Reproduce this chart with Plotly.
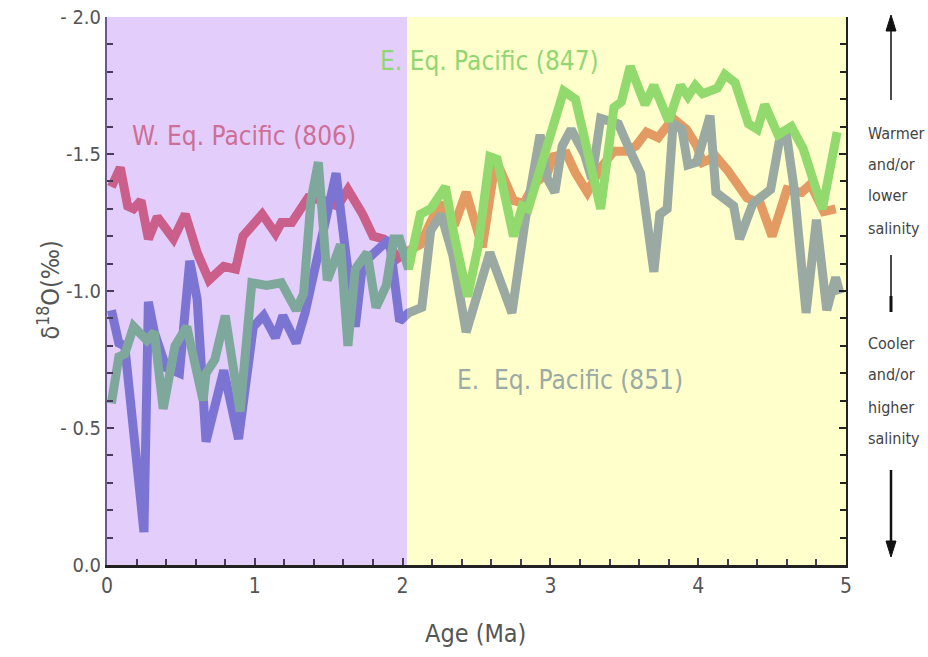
import plotly.graph_objects as go

# ---------------- data ----------------
age_806 = [0.03, 0.09, 0.14, 0.18, 0.23, 0.28, 0.34, 0.45, 0.53, 0.61, 0.69, 0.79, 0.87, 0.92,
           1.05, 1.14, 1.18, 1.25, 1.36, 1.47, 1.56, 1.63, 1.73, 1.80, 1.87, 1.97,
           2.05, 2.12, 2.25, 2.35, 2.43, 2.54, 2.63, 2.75, 2.82, 2.89, 2.98, 3.02, 3.11, 3.17,
           3.25, 3.34, 3.43, 3.52, 3.58, 3.65, 3.73, 3.83, 3.92, 3.99, 4.03, 4.12, 4.20, 4.26,
           4.33, 4.42, 4.50, 4.60, 4.70, 4.76, 4.85, 4.93]
d18o_806 = [-1.38, -1.45, -1.31, -1.30, -1.33, -1.19, -1.27, -1.19, -1.28, -1.14, -1.04, -1.09, -1.08, -1.20,
            -1.28, -1.21, -1.25, -1.25, -1.34, -1.33, -1.31, -1.37, -1.28, -1.20, -1.19, -1.12,
            -1.15, -1.17, -1.32, -1.24, -1.36, -1.16, -1.48, -1.33, -1.32, -1.39, -1.43, -1.49, -1.50, -1.43,
            -1.36, -1.45, -1.51, -1.51, -1.53, -1.58, -1.56, -1.63, -1.59, -1.53, -1.47, -1.49, -1.44, -1.39,
            -1.34, -1.32, -1.20, -1.37, -1.36, -1.39, -1.29, -1.30]

age_847 = [0.03, 0.08, 0.12, 0.18, 0.27, 0.32, 0.38, 0.46, 0.54, 0.65, 0.67, 0.73, 0.80, 0.90,
           0.98, 1.08, 1.18, 1.28, 1.33, 1.38, 1.43, 1.49, 1.54, 1.58, 1.63, 1.68, 1.76, 1.82,
           1.89, 1.94, 1.98, 2.04,
           2.12, 2.19, 2.29, 2.35, 2.44, 2.51, 2.59, 2.64, 2.75, 2.81, 2.85, 3.00, 3.09, 3.17,
           3.25, 3.34, 3.43, 3.48, 3.54, 3.64, 3.70, 3.80, 3.88, 3.93, 3.98, 4.03, 4.13, 4.18,
           4.25, 4.34, 4.40, 4.45, 4.54, 4.63, 4.71, 4.84, 4.89, 4.94]
d18o_847 = [-0.59, -0.76, -0.77, -0.87, -0.82, -0.85, -0.57, -0.80, -0.87, -0.60, -0.70, -0.75, -0.91, -0.56,
            -1.03, -1.02, -1.03, -0.93, -0.99, -1.33, -1.47, -1.04, -1.11, -1.17, -0.80, -1.08, -1.14, -0.94,
            -1.02, -1.19, -1.19, -1.08,
            -1.28, -1.30, -1.38, -1.20, -0.98, -1.16, -1.49, -1.48, -1.20, -1.31, -1.30, -1.56, -1.73, -1.70,
            -1.51, -1.30, -1.67, -1.69, -1.82, -1.68, -1.75, -1.62, -1.75, -1.71, -1.75, -1.72, -1.74, -1.79,
            -1.76, -1.61, -1.59, -1.68, -1.57, -1.60, -1.52, -1.30, -1.44, -1.58]

age_851 = [0.03, 0.08, 0.12, 0.25, 0.28, 0.32, 0.40, 0.49, 0.56, 0.61, 0.67, 0.79, 0.89, 0.99,
           1.06, 1.14, 1.19, 1.28, 1.34, 1.43, 1.50, 1.55, 1.61, 1.68, 1.73, 1.82, 1.91, 1.98, 2.04,
           2.13, 2.19, 2.26, 2.34, 2.43, 2.52, 2.59, 2.74, 2.83, 2.93, 2.98, 3.03, 3.08, 3.14,
           3.23, 3.28, 3.34, 3.40, 3.46, 3.54, 3.61, 3.70, 3.74, 3.79, 3.83, 3.89, 3.93, 3.99,
           4.08, 4.12, 4.18, 4.24, 4.28, 4.37, 4.49, 4.55, 4.60, 4.65, 4.73, 4.80, 4.87, 4.93, 4.96]
d18o_851 = [-0.93, -0.81, -0.80, -0.12, -0.96, -0.85, -0.72, -0.70, -1.11, -0.97, -0.45, -0.71, -0.46, -0.87,
            -0.91, -0.83, -0.91, -0.81, -0.92, -1.15, -1.34, -1.43, -1.16, -0.87, -1.10, -1.15, -1.19, -0.89, -0.92,
            -0.94, -1.22, -1.28, -1.13, -0.85, -1.00, -1.14, -0.92, -1.26, -1.57, -1.41, -1.36, -1.53, -1.59,
            -1.50, -1.41, -1.63, -1.62, -1.61, -1.51, -1.43, -1.07, -1.28, -1.30, -1.61, -1.59, -1.46, -1.47,
            -1.64, -1.36, -1.33, -1.31, -1.19, -1.32, -1.37, -1.55, -1.56, -1.37, -0.92, -1.26, -0.93, -1.05, -0.99]

boundary_age = 2.03  # purple / yellow split
x_max = 5.0

ytick_vals = [-2.0, -1.5, -1.0, -0.5, 0.0]
ytick_text = ["- 2.0", "-1.5", "-1.0", "- 0.5", "0.0"]
xtick_vals = [0, 1, 2, 3, 4, 5]

# ---------------- styling ----------------
PURPLE_BG = "#e3cdfb"
YELLOW_BG = "#ffffcc"
col_left = {"806": "#c95f8a", "847": "#7fa89c", "851": "#7b74d3"}
col_right = {"806": "#e39a63", "847": "#92da6e", "851": "#9aaaa2"}
LW = 9
FONT = "DejaVu Sans Condensed, Liberation Sans Narrow, Liberation Sans, sans-serif"
TXT = "#555555"
AX = "#4a3a5a"

W, H = 928, 657
ML, MR, MT, MB = 107, 82, 17, 92  # plot area: x 107..846, y 17..565

series = [("806", age_806, d18o_806), ("851", age_851, d18o_851), ("847", age_847, d18o_847)]

fig = go.Figure()
for key, ages, vals in series:
    fig.add_trace(go.Scatter(x=ages, y=vals, mode="lines", xaxis="x2", yaxis="y2",
                             line=dict(color=col_right[key], width=LW), showlegend=False,
                             hoverinfo="skip"))
for key, ages, vals in series:
    fig.add_trace(go.Scatter(x=ages, y=vals, mode="lines", xaxis="x", yaxis="y",
                             line=dict(color=col_left[key], width=LW), showlegend=False,
                             hoverinfo="skip"))

split = boundary_age / x_max
minor_y = [-2 + 0.1 * i for i in range(21)]
minor_x = [0.2 * i for i in range(26)]

common_x = dict(tickmode="array", tickvals=xtick_vals, ticks="inside", ticklen=7,
                tickcolor=AX, tickwidth=1.5,
                minor=dict(tickmode="array", tickvals=minor_x, ticks="inside", ticklen=6,
                           tickcolor=AX, tickwidth=1.5),
                showline=True, linecolor="#222222", linewidth=3, showgrid=False, zeroline=False,
                tickfont=dict(size=21, color=TXT), automargin=False, ticklabeloverflow="allow")

fig.update_layout(
    width=W, height=H,
    margin=dict(l=ML, r=MR, t=MT, b=MB, autoexpand=False),
    paper_bgcolor="white",
    plot_bgcolor=YELLOW_BG,
    font=dict(family=FONT, color=TXT),
    xaxis=dict(domain=[0, split], range=[0, boundary_age], anchor="y", **common_x),
    xaxis2=dict(domain=[split, 1], range=[boundary_age, x_max], anchor="y2", **common_x),
    yaxis=dict(range=[0, -2], anchor="x", tickmode="array", tickvals=ytick_vals,
               ticktext=ytick_text, ticks="inside", ticklen=7, tickcolor=AX, tickwidth=1.5,
               minor=dict(tickmode="array", tickvals=minor_y, ticks="inside", ticklen=6,
                          tickcolor=AX, tickwidth=1.5),
               showline=True, linecolor="#6a5a8a", linewidth=2, showgrid=False, zeroline=False,
               tickfont=dict(size=20, color=TXT), automargin=False, ticklabeloverflow="allow"),
    yaxis2=dict(range=[0, -2], anchor="x2", side="right", tickmode="array", tickvals=ytick_vals,
                showticklabels=False, ticks="inside", ticklen=7, tickcolor="#222222", tickwidth=1.5,
                minor=dict(tickmode="array", tickvals=minor_y, ticks="inside", ticklen=6,
                           tickcolor="#222222", tickwidth=1.5),
                showline=True, linecolor="#222222", linewidth=2, showgrid=False, zeroline=False,
                automargin=False),
)

fig.add_shape(type="rect", xref="x domain", yref="y domain", x0=0, x1=1, y0=0, y1=1,
              fillcolor=PURPLE_BG, line_width=0, layer="below")


def px_to_paper_x(px):
    return (px - ML) / (W - ML - MR)


def px_to_paper_y(py):
    return (H - MB - py) / (H - MT - MB)


ann = []
ann.append(dict(x=0.93, y=-1.565, xref="x", yref="y", text="W. Eq. Pacific (806)",
                showarrow=False, font=dict(size=26, color="#cd6f96")))
ann.append(dict(x=2.59, y=-1.84, xref="x2", yref="y2", text="E. Eq. Pacific (847)",
                showarrow=False, font=dict(size=26, color="#92d674")))
ann.append(dict(x=3.13, y=-0.675, xref="x2", yref="y2", text="E.  Eq. Pacific (851)",
                showarrow=False, font=dict(size=26, color="#9aaaa4")))
ann.append(dict(x=px_to_paper_x(475), y=px_to_paper_y(633), xref="paper", yref="paper",
                text="Age (Ma)", showarrow=False, font=dict(size=25, color=TXT), yanchor="middle"))
ann.append(dict(x=px_to_paper_x(30), y=px_to_paper_y(290), xref="paper", yref="paper",
                text="δ<sup>18</sup>O(‰)", textangle=-90, showarrow=False,
                font=dict(size=25, color=TXT)))

for word, py in [("Warmer", 133), ("and/or", 164), ("lower", 196), ("salinity", 229),
                 ("Cooler", 343), ("and/or", 375), ("higher", 407), ("salinity", 438)]:
    ann.append(dict(x=px_to_paper_x(866), y=px_to_paper_y(py), xref="paper", yref="paper",
                    text=word, showarrow=False, xanchor="left", yanchor="middle",
                    font=dict(size=16, color="#444444")))
fig.update_layout(annotations=ann)

# arrows drawn as shapes
ax_px = 891
ARW = "#111111"
hw, hh = 5, 16  # arrow head half-width / height in px


def vline(y0, y1, width):
    fig.add_shape(type="line", xref="paper", yref="paper",
                  x0=px_to_paper_x(ax_px), x1=px_to_paper_x(ax_px),
                  y0=px_to_paper_y(y0), y1=px_to_paper_y(y1),
                  line=dict(color=ARW, width=width))


def head(tip_y, direction):
    base = tip_y + hh * direction
    pts = [(ax_px, tip_y), (ax_px - hw, base), (ax_px + hw, base)]
    path = "M " + " L ".join(f"{px_to_paper_x(x)},{px_to_paper_y(y)}" for x, y in pts) + " Z"
    fig.add_shape(type="path", xref="paper", yref="paper", path=path,
                  fillcolor=ARW, line=dict(color=ARW, width=1))


vline(28, 100, 1.5)
head(15, 1)
vline(470, 545, 2.5)
head(557, -1)
vline(255, 312, 1.5)
vline(296, 312, 3)

# remove the default page margin so the figure fills the 928x657 window exactly
fig.write_html("out.html", config={"displayModeBar": False},
               post_script="document.body.style.margin='0';document.body.style.overflow='hidden';")
